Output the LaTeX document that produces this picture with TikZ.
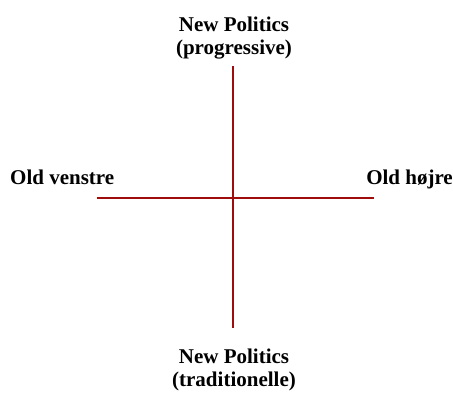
\documentclass[tikz,border=0pt]{standalone}
\usepackage{fontspec}
\setmainfont{Liberation Serif}
\definecolor{axisred}{RGB}{158,12,12}
\tikzset{
  axis/.style={draw=axisred, line width=2.4pt},
  pole/.style={font=\bfseries\fontsize{21}{23.5}\selectfont, inner sep=0pt, align=center}
}
\begin{document}
\begin{tikzpicture}[x=1pt,y=1pt]
\useasboundingbox (0,0) rectangle (453,393);

% ends of the two axes
\coordinate (west) at (97,195);
\coordinate (east) at (374,195);
\coordinate (north) at (233,327);
\coordinate (south) at (233,65);

\draw[axis] (west) -- (east);
\draw[axis] (north) -- (south);

\node[pole, anchor=base] (newprog) at (234,338) {New Politics\\(progressive)};
\node[pole, anchor=base] (newtrad) at (234,6) {New Politics\\(traditionelle)};
\node[pole, anchor=base west] (oldleft) at (10,208) {Old venstre};
\node[pole, anchor=base east] (oldright) at (453,208) {Old højre};

\end{tikzpicture}
\end{document}
